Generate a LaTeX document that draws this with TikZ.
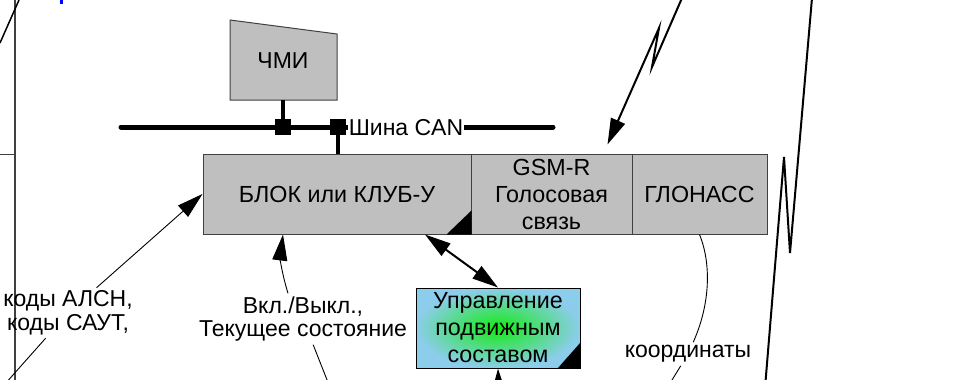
\documentclass[tikz,border=0pt]{standalone}
\usepackage{fontspec}
\setmainfont{Liberation Sans}
\usetikzlibrary{arrows.meta}
\definecolor{pultgreen}{RGB}{20,235,20}
\definecolor{pultblue}{RGB}{140,205,235}
\definecolor{edgegray}{RGB}{64,64,64}
\tikzset{
	shell/.style={draw=edgegray,fill=black!25,line width=1pt},
	cell/.style={shell,minimum height=80pt,inner sep=0pt,align=center,font=\fontsize{23.3}{27}\selectfont},
	pult/.style={draw=black,line width=1pt,shade,shading=radial,inner color=pultgreen,outer color=pultblue,minimum width=164pt,minimum height=80pt,inner sep=0pt,align=center,font=\fontsize{23.3}{27}\selectfont},
	lbl/.style={align=center,inner sep=3pt,font=\fontsize{23}{23.5}\selectfont},
	bus/.style={line width=5pt,line cap=round},
	tap/.style={fill=black,minimum size=16pt,inner sep=0pt},
	stub/.style={line width=4pt},
	link/.style={line width=0.9pt},
	radio/.style={line width=2pt},
	toarr/.style={-{Triangle[length=26pt,width=15pt]}},
	bothtip/.style={{Triangle[length=26pt,width=15pt]}-{Triangle[length=26pt,width=15pt]}}
}
\begin{document}
\begin{tikzpicture}[x=1pt,y=-1pt]
		\clip (0,0) rectangle (977,380);
		% edge of the sheet
		\draw[line width=2pt,edgegray] (15,0) -- (15,380);
		\draw[link,edgegray] (0,154) -- (15,154);
		\draw[line width=1.5pt] (0,43) -- (19,0);
		\fill[blue] (60,0) rectangle (63,4);
		
		\draw[shell] (230,20) -- (337,34) -- (337,100) -- (230,100) -- cycle;
		\node[lbl] (hmi) at (283,61) {ЧМИ};
		\coordinate (hmib) at (283,100);
		
		\node[cell,minimum width=268pt] (blok) at (337,194) {БЛОК или КЛУБ-У};
		\node[cell,minimum width=161pt] (gsm) at (551.5,194) {GSM-R\\Голосовая\\связь};
		\node[cell,minimum width=135pt] (glonass) at (699.5,194) {ГЛОНАСС};
		\fill (blok.south east) -- ++(-25,0) -- ++(25,-24) -- cycle;
		
		\draw[bus] (121,127) -- (553,127);
		\node[lbl,fill=white,inner sep=1pt] (can) at (406,128) {Шина CAN};
		\node[tap] (tap1) at (283,127) {};
		\node[tap] (tap2) at (338,127) {};
		\draw[stub] (hmib) -- (tap1);
		\draw[stub] (tap2) -- (tap2 |- blok.north);
		
		\node[pult] (pult) at (498,328) {Управление\\подвижным\\составом};
		\fill (pult.south east) -- ++(-23,0) -- ++(23,-26) -- cycle;
		
		\node[lbl] (alsn) at (68,313) {коды АЛСН,\\коды САУТ,};
		\node[lbl] (onoff) at (303,319) {Вкл./Выкл.,\\Текущее состояние};
		\node[lbl] (koord) at (688,354) {координаты};
		\coordinate (alsnsrc) at (-3,393);
		\coordinate (onoffsrc) at (333,395);
		\coordinate (koordsrc) at (664,393);
		\coordinate (pultsrc) at (499,400);
		
		\draw[link] (alsnsrc) -- (alsn);
		\draw[link,toarr] (alsn) -- (blok.west);
		\draw[link] (onoffsrc) -- (onoff);
		\draw[link,toarr] ([xshift=-15pt]onoff.north) to[bend left=12] ([xshift=-54pt]blok.south);
		\draw[radio,bothtip] ([xshift=88pt]blok.south) -- (pult.north);
		\draw[radio,toarr] (pultsrc) -- (pult.south);
		\draw[link] (glonass.south) .. controls (710,260) and (712,300) .. (koord);
		\draw[link] (koordsrc) -- (koord);
		
		% radio links
		\draw[radio,toarr] (682,-2) -- (652,67) -- (659,28) -- ([xshift=56pt,yshift=9pt]gsm.north);
		\draw[radio] (812,-2) -- (790,253) -- (784,157) -- (764,400);
\end{tikzpicture}
\end{document}
